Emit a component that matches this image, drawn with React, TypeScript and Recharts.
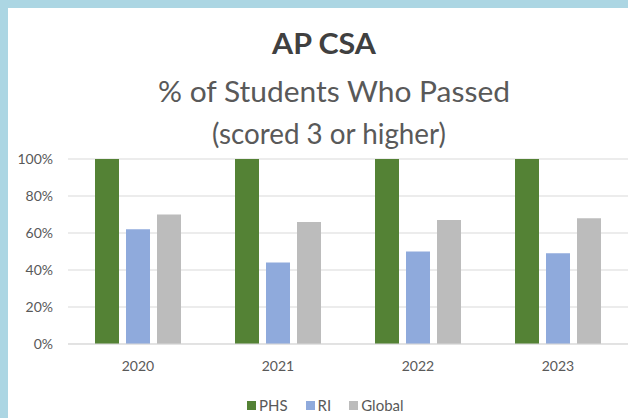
import React from "react";
import { BarChart, Bar, XAxis, YAxis, CartesianGrid, Legend } from "recharts";

const years = ["2020", "2021", "2022", "2023"];
const phs = [100, 100, 100, 100];
const ri = [62, 44, 50, 49];
const globalPct = [70, 66, 67, 68];
const yTicks = [0, 20, 40, 60, 80, 100];
const seriesNames = ["PHS", "RI", "Global"];
const seriesColors = ["#548235", "#8faadc", "#bcbcbc"];
const titleLines = ["AP CSA", "% of Students Who Passed", "(scored 3 or higher)"];

const data = years.map((y, i) => ({ year: y, PHS: phs[i], RI: ri[i], Global: globalPct[i] }));

const FONT = "Lato, 'Open Sans', sans-serif";

const LegendContent = () => (
  <div style={{ display: "flex", alignItems: "center", fontFamily: FONT, fontSize: 15, color: "#595959", whiteSpace: "nowrap" }}>
    {seriesNames.map((n, i) => (
      <div key={n} style={{ display: "flex", alignItems: "center", marginRight: i < 2 ? 18 : 0 }}>
        <div style={{ width: 9, height: 9, background: seriesColors[i], marginRight: 3 }} />
        <span>{n}</span>
      </div>
    ))}
  </div>
);

export default function App() {
  return (
    <div style={{ position: "fixed", left: 0, top: 0, width: 628, height: 418, background: "#acd6e3", overflow: "hidden" }}>
      <div style={{ position: "absolute", left: 8, top: 8, width: 620, height: 410, background: "#ffffff" }} />
      <svg width={628} height={150} style={{ position: "absolute", left: 0, top: 0 }}>
        <text x={324} y={54} textAnchor="middle" fontFamily={FONT} fontWeight={700} fontSize={28} fill="#404040" textLength={104} lengthAdjust="spacingAndGlyphs">{titleLines[0]}</text>
        <text x={334} y={102} textAnchor="middle" fontFamily={FONT} fontSize={28} fill="#595959" textLength={352} lengthAdjust="spacingAndGlyphs">{titleLines[1]}</text>
        <text x={329} y={144} textAnchor="middle" fontFamily={FONT} fontSize={28} fill="#595959" textLength={234} lengthAdjust="spacingAndGlyphs">{titleLines[2]}</text>
      </svg>
      <div style={{ position: "absolute", left: 0, top: 0 }}>
        <BarChart
          width={628}
          height={418}
          data={data}
          margin={{ top: 159, right: 0, bottom: 44, left: 0 }}
          barGap={7}
          barSize={24}
        >
          <CartesianGrid vertical={false} stroke="#d9d9d9" />
          <XAxis
            dataKey="year"
            height={30}
            axisLine={{ stroke: "#d9d9d9" }}
            tickLine={false}
            tickSize={0}
            tickMargin={17}
            tick={{ fill: "#595959", fontSize: 14, fontFamily: FONT }}
          />
          <YAxis
            width={68}
            domain={[0, 100]}
            ticks={yTicks}
            axisLine={false}
            tickLine={false}
            tickSize={0}
            tickMargin={15}
            tickFormatter={(v) => `${v}%`}
            tick={{ fill: "#595959", fontSize: 14, fontFamily: FONT }}
          />
          <Legend
            layout="horizontal"
            verticalAlign="middle"
            align="center"
            content={<LegendContent />}
            wrapperStyle={{ left: 247, top: 396, width: "auto", height: "auto" }}
          />
          <Bar dataKey="PHS" name={seriesNames[0]} fill={seriesColors[0]} isAnimationActive={false} />
          <Bar dataKey="RI" name={seriesNames[1]} fill={seriesColors[1]} isAnimationActive={false} />
          <Bar dataKey="Global" name={seriesNames[2]} fill={seriesColors[2]} isAnimationActive={false} />
        </BarChart>
      </div>
    </div>
  );
}
